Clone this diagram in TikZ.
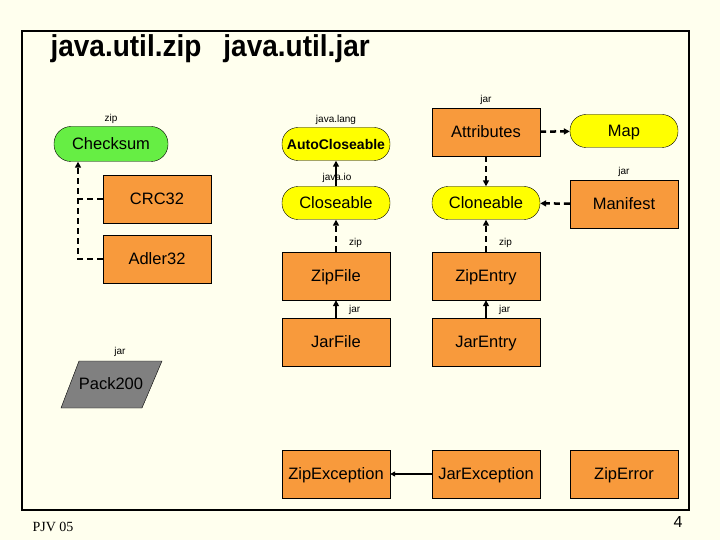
\documentclass[tikz,border=0pt]{standalone}
\usepackage{fontspec}
\setmainfont{Liberation Sans}
\newfontfamily\pjvserif{Liberation Serif}
\usetikzlibrary{arrows.meta,positioning}
\definecolor{jvcream}{HTML}{FFFFEE}
\definecolor{jvorange}{HTML}{F89A3C}
\definecolor{jvyellow}{HTML}{FFFF00}
\definecolor{jvgreen}{HTML}{66EE44}
\definecolor{jvgray}{HTML}{808080}
\tikzset{
  boxtext/.style={font=\fontsize{16.5}{19}\selectfont, text height=11.5pt, text depth=0.5pt},
  cls/.style={draw, fill=jvorange, minimum width=108pt, minimum height=48pt, inner sep=0pt, boxtext},
  iface/.style={draw, fill=jvyellow, rounded corners=16pt, minimum width=108pt, minimum height=33pt,
    inner sep=0pt, boxtext},
  pkg/.style={font=\fontsize{10}{12}\selectfont, inner sep=1pt},
  dashline/.style={line width=2.5pt, dash pattern=on 6pt off 4pt},
  impl/.style={dashline, -{Triangle[length=6pt,width=6pt]}},
  ext/.style={line width=2.5pt, -{Triangle[length=6pt,width=6pt]}},
}
\begin{document}
\begin{tikzpicture}[x=1pt, y=-1pt]
\fill[jvcream] (0,0) rectangle (720,540);
\useasboundingbox (0,0) rectangle (720,540);
\draw[line width=2pt] (22,31) rectangle (689,510);
\node[anchor=west, font=\bfseries\fontsize{28}{32}\selectfont] (title) at (47,49)
  {\scalebox{1}[1.08]{java.util.zip\hspace{22pt}java.util.jar}};

% zip checksums
\node[draw, fill=jvgreen, rounded corners=17pt, minimum width=114pt, minimum height=35pt, inner sep=0pt,
  boxtext] (checksum) at (111,144) {Checksum};
\node[pkg, above=2pt of checksum] {zip};
\node[cls] (crc) at (157,199) {CRC32};
\node[cls] (adler) at (157,259) {Adler32};
\coordinate (bus) at (78,0);
\draw[dashline] (crc.west) -- (crc.west -| bus);
\draw[impl] (adler.west) -| (checksum.south -| bus);

% interfaces
\node[iface, font=\bfseries\fontsize{14}{16}\selectfont] (autoclose) at (336,144) {AutoCloseable};
\node[pkg, above=2pt of autoclose] {java.lang};
\node[iface] (closeable) at (336,203) {Closeable};
\node[pkg] at (337,178) {java.io};
\draw[ext] (closeable) -- (autoclose);

\node[cls] (attrs) at (486,132) {Attributes};
\node[pkg, above=2pt of attrs] {jar};
\node[iface] (map) at (624,131) {Map};
\node[iface] (cloneable) at (486,203) {Cloneable};
\node[cls] (manifest) at (624,204) {Manifest};
\node[pkg, above=2pt of manifest] {jar};
\draw[impl] (attrs) -- (map);
\draw[impl] (attrs) -- (cloneable);
\draw[impl] (manifest) -- (cloneable);

% files and entries
\node[cls] (zipfile) at (336,276) {ZipFile};
\node[cls] (zipentry) at (486,276) {ZipEntry};
\node[cls] (jarfile) at (336,342) {JarFile};
\node[cls] (jarentry) at (486,342) {JarEntry};
\node[pkg, anchor=west] at (348,243) {zip};
\node[pkg, anchor=west] at (498,243) {zip};
\node[pkg, anchor=west] at (348,310) {jar};
\node[pkg, anchor=west] at (498,310) {jar};
\draw[impl] (zipfile) -- (closeable);
\draw[impl] (zipentry) -- (cloneable);
\draw[ext] (jarfile) -- (zipfile);
\draw[ext] (jarentry) -- (zipentry);

% pack200
\fill[jvgray, draw=black] (79,361) -- (162,361) -- (142,408) -- (61,408) -- cycle;
\node[boxtext] (pack) at (111,384) {Pack200};
\node[pkg] at (120,352) {jar};

% exceptions
\node[cls] (zipexc) at (336,474) {ZipException};
\node[cls] (jarexc) at (486,474) {JarException};
\node[cls] (ziperr) at (624,474) {ZipError};
\draw[line width=1.5pt, -{Triangle[length=5pt,width=5pt]}] (jarexc) -- (zipexc);

\node[font=\pjvserif\fontsize{14}{16}\selectfont] (pjv) at (53,527) {PJV 05};
\node[font=\fontsize{16}{18}\selectfont] (page) at (678,522) {4};
\end{tikzpicture}
\end{document}
